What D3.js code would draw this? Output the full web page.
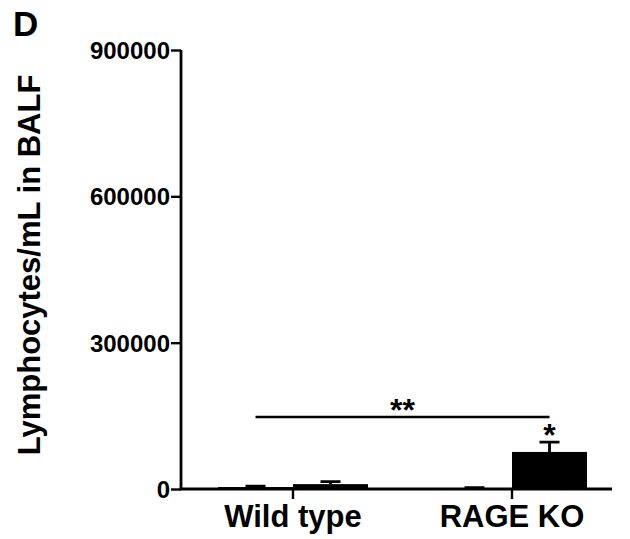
<!DOCTYPE html>
<html>
<head>
<meta charset="utf-8">
<script src="https://cdn.jsdelivr.net/npm/d3@7"></script>
<style>
  body { margin: 0; background: #fff; }
  text { font-family: "Liberation Sans", Arial, sans-serif; font-weight: bold; fill: #000; }
</style>
</head>
<body>
<svg id="chart" width="630" height="539"></svg>
<script>
// Data.
const groups = ["Wild type", "RAGE KO"];
const conditions = ["control", "treated"];
const means = [[4000, 10000], [2000, 76000]];
const errors = [[2000, 5000], [800, 20000]];
const yTicks = [0, 300000, 600000, 900000];

const svg = d3.select("#chart");

// Layout.
const x0 = 181, x1 = 612;
const yTop = 50, yBottom = 489;
const barW = 75;
const groupCenters = [293, 512];

const y = d3.scaleLinear().domain([0, 900000]).range([yBottom, yTop]);
const x = d3.scalePoint().domain(groups).range(groupCenters);

// Y axis.
const yAxis = svg.append("g")
  .attr("transform", `translate(${x0},0)`)
  .call(d3.axisLeft(y).tickValues(yTicks).tickSize(10).tickPadding(1).tickFormat(d3.format("d")));
yAxis.select(".domain").attr("stroke-width", 2.8).attr("d", `M0,${yTop}V${yBottom}`);
yAxis.selectAll(".tick line").attr("stroke-width", 2.4);
yAxis.selectAll(".tick text")
  .attr("font-size", 24)
  .attr("font-family", "'Liberation Sans', Arial, sans-serif")
  .attr("dy", "0.36em");

// X axis.
const xAxis = svg.append("g").attr("transform", `translate(0,${yBottom})`);
xAxis.append("line")
  .attr("x1", x0 - 1.4).attr("x2", x1)
  .attr("stroke", "#000").attr("stroke-width", 2.8);
xAxis.selectAll(".xtick").data(groups).join("line")
  .attr("x1", (d) => x(d)).attr("x2", (d) => x(d))
  .attr("y1", 0).attr("y2", 10)
  .attr("stroke", "#000").attr("stroke-width", 2.4);
xAxis.selectAll(".xlabel").data(groups).join("text")
  .attr("x", (d) => x(d)).attr("y", 38)
  .attr("text-anchor", "middle").attr("font-size", 31)
  .text((d) => d);

// Bars and error bars.
const bars = [];
groups.forEach((g, gi) => {
  conditions.forEach((c, ci) => {
    const left = ci === 0 ? x(g) - barW : x(g);
    bars.push({ g, c, left, mean: means[gi][ci], err: errors[gi][ci] });
  });
});

const gBars = svg.append("g");
gBars.selectAll("rect").data(bars).join("rect")
  .attr("x", (d) => d.left)
  .attr("y", (d) => y(d.mean))
  .attr("width", barW)
  .attr("height", (d) => yBottom - y(d.mean))
  .attr("fill", "#000");

gBars.selectAll(".err").data(bars).join("path")
  .attr("d", (d) => {
    const cx = d.left + barW / 2;
    const ty = y(d.mean + d.err);
    return `M${cx},${y(d.mean)}V${ty}M${cx - 10},${ty}H${cx + 10}`;
  })
  .attr("fill", "none").attr("stroke", "#000").attr("stroke-width", 2.8);

// Significance markers.
const b1 = bars[0], b4 = bars[3];
const sigY = 417;
svg.append("line")
  .attr("x1", b1.left + barW / 2).attr("x2", b4.left + barW / 2)
  .attr("y1", sigY).attr("y2", sigY)
  .attr("stroke", "#000").attr("stroke-width", 2.4);
svg.append("text")
  .attr("x", (b1.left + b4.left + barW) / 2).attr("y", sigY + 4)
  .attr("text-anchor", "middle").attr("font-size", 32)
  .text("**");
svg.append("text")
  .attr("x", b4.left + barW / 2).attr("y", y(b4.mean + b4.err) + 4)
  .attr("text-anchor", "middle").attr("font-size", 32)
  .text("*");

// Y axis title.
svg.append("text")
  .attr("transform", "translate(40,265) rotate(-90)")
  .attr("text-anchor", "middle").attr("font-size", 31)
  .text("Lymphocytes/mL in BALF");

// Panel letter.
svg.append("text")
  .attr("x", 13).attr("y", 36)
  .attr("font-size", 35)
  .text("D");
</script>
</body>
</html>
